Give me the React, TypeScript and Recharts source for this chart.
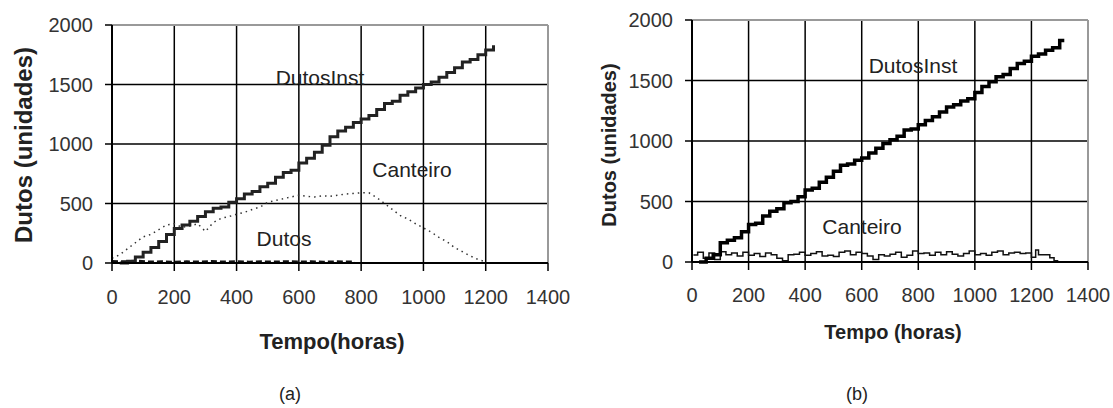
import { CartesianGrid, Line, LineChart, ReferenceLine, XAxis, YAxis } from "recharts";

// ---- panel (a) ----
const instHoursA = [25, 50, 75, 100, 125, 150, 175, 200, 225, 250, 275, 300, 325, 350, 375, 400, 425, 450, 475, 500, 525, 550, 575, 600, 625, 650, 675, 700, 725, 750, 775, 800, 825, 850, 875, 900, 925, 950, 975, 1000, 1025, 1050, 1075, 1100, 1125, 1150, 1175, 1200, 1225];
const instValuesA = [0, 15, 50, 90, 130, 180, 240, 290, 320, 350, 390, 430, 460, 470, 510, 540, 580, 600, 640, 670, 720, 760, 780, 840, 880, 930, 990, 1060, 1110, 1140, 1180, 1210, 1240, 1290, 1340, 1360, 1410, 1440, 1470, 1500, 1520, 1560, 1600, 1640, 1690, 1710, 1750, 1790, 1830];

const canteiroHoursA = [0, 25, 50, 75, 100, 125, 150, 175, 200, 225, 250, 275, 300, 325, 350, 375, 400, 425, 450, 475, 500, 525, 550, 575, 600, 625, 650, 675, 700, 725, 750, 775, 800, 825, 850, 875, 900, 925, 950, 975, 1000, 1025, 1050, 1075, 1100, 1125, 1150, 1175, 1200];
const canteiroValuesA = [40, 70, 120, 170, 220, 240, 280, 320, 330, 300, 310, 330, 265, 340, 375, 390, 410, 425, 450, 470, 510, 525, 540, 555, 570, 560, 555, 565, 560, 570, 580, 585, 590, 590, 550, 500, 450, 400, 370, 330, 295, 260, 215, 180, 130, 95, 60, 30, 10];

const dutosHoursA = [0, 40, 80, 120, 160, 200, 240, 280, 320, 360, 400, 440, 480, 520, 560, 600, 640, 680, 720, 760, 780];
const dutosValuesA = [15, 12, 18, 10, 12, 8, 12, 10, 14, 10, 12, 9, 12, 10, 13, 10, 12, 9, 12, 10, 10];

// ---- panel (b) ----
const instHoursB = [25, 50, 75, 100, 125, 150, 175, 200, 225, 250, 275, 300, 325, 350, 375, 400, 425, 450, 475, 500, 525, 550, 575, 600, 625, 650, 675, 700, 725, 750, 775, 800, 825, 850, 875, 900, 925, 950, 975, 1000, 1025, 1050, 1075, 1100, 1125, 1150, 1175, 1200, 1225, 1250, 1275, 1300, 1310];
const instValuesB = [0, 30, 60, 160, 180, 200, 250, 310, 320, 380, 420, 440, 490, 500, 540, 595, 610, 660, 700, 750, 800, 810, 840, 860, 900, 940, 980, 1010, 1040, 1090, 1100, 1135, 1170, 1200, 1240, 1280, 1300, 1330, 1350, 1400, 1450, 1490, 1530, 1550, 1600, 1640, 1660, 1700, 1720, 1750, 1770, 1830, 1845];

const canteiroHoursB = [5, 20, 40, 60, 80, 100, 120, 140, 160, 180, 200, 220, 240, 260, 280, 300, 320, 340, 360, 380, 400, 420, 440, 460, 480, 500, 520, 540, 560, 580, 600, 620, 640, 660, 680, 700, 720, 740, 760, 780, 800, 820, 840, 860, 880, 900, 920, 940, 960, 980, 1000, 1020, 1040, 1060, 1080, 1100, 1120, 1140, 1160, 1180, 1200, 1215, 1225, 1265, 1280, 1295];
const canteiroValuesB = [58, 80, 30, 75, 20, 85, 60, 75, 50, 80, 55, 70, 45, 75, 60, 30, 10, 60, 65, 80, 55, 70, 85, 50, 55, 45, 80, 90, 60, 80, 70, 50, 20, 60, 50, 65, 80, 40, 55, 90, 70, 75, 55, 80, 60, 85, 65, 50, 70, 90, 60, 70, 55, 80, 90, 60, 75, 80, 70, 75, 40, 100, 60, 35, 10, 10];

const xTicks = [0, 200, 400, 600, 800, 1000, 1200, 1400];
const yTicks = [0, 500, 1000, 1500, 2000];

const toPoints = (hours: number[], values: number[]) =>
  hours.map((x, i) => ({ x, y: values[i] }));

const FONT = '"Liberation Sans", Arial, sans-serif';

const Txt = ({ x, y, size, bold, rotate, children }: any) => (
  <div
    style={{
      position: "absolute",
      left: x,
      top: y,
      transform: `translate(-50%, -50%)${rotate ? " rotate(-90deg)" : ""}`,
      fontSize: size,
      fontWeight: bold ? "bold" : "normal",
      lineHeight: 1,
      whiteSpace: "nowrap",
      color: "#222",
    }}
  >
    {children}
  </div>
);

const Panel = ({ width, yAxisWidth, right, top, bottom, tickMargin, children }: any) => (
  <LineChart width={width} height={408} margin={{ top, right, bottom, left: 0 }}>
    <CartesianGrid stroke="#000" strokeWidth={1.5} />
    <ReferenceLine y={2000} stroke="#999" strokeWidth={2} />
    <ReferenceLine x={1400} stroke="#999" strokeWidth={2} />
    <XAxis
      type="number"
      dataKey="x"
      domain={[0, 1400]}
      ticks={xTicks}
      height={40}
      tickSize={8}
      tickMargin={tickMargin}
      tick={{ fontSize: 20, fill: "#333", fontFamily: FONT }}
      axisLine={{ stroke: "#000", strokeWidth: 2 }}
      tickLine={{ stroke: "#000", strokeWidth: 1.5 }}
    />
    <YAxis
      type="number"
      domain={[0, 2000]}
      ticks={yTicks}
      width={yAxisWidth}
      tickSize={7}
      tickMargin={12}
      tick={{ fontSize: 20, fill: "#333", fontFamily: FONT }}
      axisLine={{ stroke: "#000", strokeWidth: 2 }}
      tickLine={{ stroke: "#000", strokeWidth: 1.5 }}
    />
    {children}
  </LineChart>
);

export default function App() {
  return (
    <div
      style={{
        position: "absolute",
        left: 0,
        top: 0,
        width: 1113,
        height: 408,
        background: "#fff",
        fontFamily: FONT,
        overflow: "hidden",
      }}
    >
      <div style={{ position: "absolute", left: 0, top: 0 }}>
        <Panel width={600} yAxisWidth={112} right={52} top={25} bottom={105} tickMargin={19}>
          <Line
            data={toPoints(canteiroHoursA, canteiroValuesA)}
            dataKey="y"
            type="linear"
            stroke="#333"
            strokeWidth={1.5}
            strokeDasharray="1.5 4"
            dot={false}
            isAnimationActive={false}
          />
          <Line
            data={toPoints(dutosHoursA, dutosValuesA)}
            dataKey="y"
            type="linear"
            stroke="#111"
            strokeWidth={2.5}
            strokeDasharray="6 3"
            dot={false}
            isAnimationActive={false}
          />
          <Line
            data={toPoints(instHoursA, instValuesA)}
            dataKey="y"
            type="stepAfter"
            stroke="#222"
            strokeWidth={3}
            dot={false}
            isAnimationActive={false}
          />
        </Panel>
      </div>
      <div style={{ position: "absolute", left: 560, top: 0 }}>
        <Panel width={553} yAxisWidth={132} right={25} top={20} bottom={106} tickMargin={18}>
          <Line
            data={toPoints(canteiroHoursB, canteiroValuesB)}
            dataKey="y"
            type="stepAfter"
            stroke="#111"
            strokeWidth={1.5}
            dot={false}
            isAnimationActive={false}
          />
          <Line
            data={toPoints(instHoursB, instValuesB)}
            dataKey="y"
            type="stepAfter"
            stroke="#000"
            strokeWidth={3.5}
            dot={false}
            isAnimationActive={false}
          />
        </Panel>
      </div>

      {/* panel (a) texts */}
      <Txt x={24} y={145} size={24} bold rotate>Dutos (unidades)</Txt>
      <Txt x={332} y={342} size={22} bold>Tempo(horas)</Txt>
      <Txt x={320} y={77} size={21}>DutosInst</Txt>
      <Txt x={412} y={169} size={21}>Canteiro</Txt>
      <Txt x={284} y={238} size={21}>Dutos</Txt>
      <Txt x={290} y={394} size={18}>(a)</Txt>

      {/* panel (b) texts */}
      <Txt x={609} y={145} size={20} bold rotate>Dutos (unidades)</Txt>
      <Txt x={893} y={332} size={20} bold>Tempo (horas)</Txt>
      <Txt x={913} y={65} size={21}>DutosInst</Txt>
      <Txt x={862} y={226} size={21}>Canteiro</Txt>
      <Txt x={857} y={394} size={18}>(b)</Txt>
    </div>
  );
}
